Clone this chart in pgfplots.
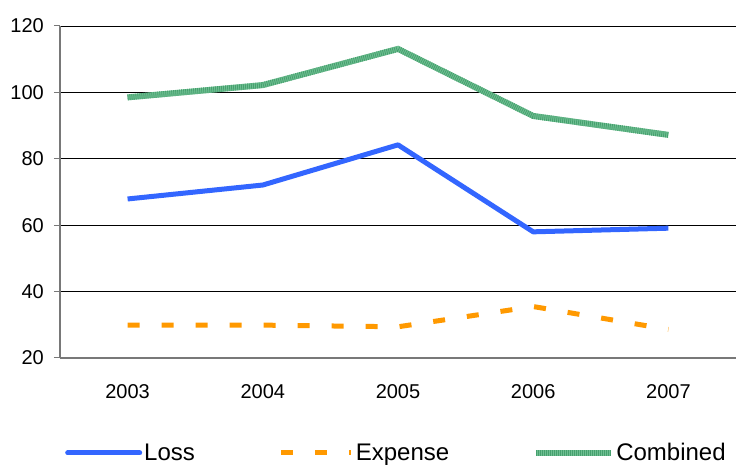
\documentclass[border=0pt]{standalone}
\usepackage{fontspec}
\setmainfont{Liberation Sans}
\usepackage{pgfplots}
\pgfplotsset{compat=1.18}
\definecolor{lossblue}{RGB}{51,102,255}
\definecolor{expor}{RGB}{255,153,0}
\definecolor{combg}{RGB}{110,190,145}
\definecolor{combd}{RGB}{70,160,110}
\definecolor{axgray}{RGB}{120,120,120}
\begin{document}
\begin{tikzpicture}
\begin{axis}[
  scale only axis, width=676pt, height=332pt,
  xmin=-0.5, xmax=4.5, ymin=20, ymax=120,
  xtick={0,1,2,3,4}, xticklabels={2003,2004,2005,2006,2007},
  ytick={20,40,60,80,100,120},
  ymajorgrids, grid style={black, line width=0.8pt},
  axis x line*=bottom, axis y line*=left,
  axis line style={-, axgray, line width=1.3pt},
  tick align=outside, major tick length=6pt,
  xtick style={draw=none},
  ytick style={axgray, line width=1pt},
  /pgf/number format/assume math mode=true,
  ticklabel style={font=\fontsize{20}{24}\selectfont, inner sep=0pt},
  yticklabel style={xshift=-10pt},
  xticklabel style={yshift=-20pt},
  legend columns=3,
  legend style={at={(axis description cs:0,0)}, anchor=west, xshift=5pt, yshift=-95pt,
    draw=none, fill=none, inner sep=0pt, font=\fontsize{24}{28}\selectfont,
    nodes={inner sep=0pt},
    /tikz/every odd column/.append style={column sep=2pt},
    /tikz/every even column/.append style={column sep=84pt}},
  legend cell align=left,
]
\addplot[lossblue, line width=5pt, line join=round,
  legend image code/.code={\draw[lossblue, line width=5pt, line cap=round] (0pt,0pt) -- (72pt,0pt);}]
  coordinates {(0,67.9) (1,72.1) (2,84.2) (3,58.0) (4,59.1)};
\addlegendentry{Loss}
\addplot[expor, line width=5pt, dash pattern=on 12pt off 22pt,
  legend image code/.code={\draw[expor, line width=5pt, dash pattern=on 12pt off 22pt] (0pt,0pt) -- (70pt,0pt);}]
  coordinates {(0,29.9) (1,29.9) (2,29.4) (3,35.5) (4,28.6)};
\addlegendentry{Expense}
\addplot[combg, line width=6pt,
  legend image code/.code={\draw[combg, line width=6pt] (0pt,0pt) -- (75pt,0pt);
     \draw[combd, line width=6pt, dash pattern=on 0.8pt off 1.2pt] (0pt,0pt) -- (75pt,0pt);}]
  coordinates {(0,98.5) (1,102.2) (2,113.1) (3,92.9) (4,87.2)};
\addlegendentry{Combined}
\addplot[combd, line width=6pt, dash pattern=on 0.8pt off 1.2pt, forget plot]
  coordinates {(0,98.5) (1,102.2) (2,113.1) (3,92.9) (4,87.2)};
\end{axis}
\pgfresetboundingbox
\path[use as bounding box] ([xshift=-60pt,yshift=-107pt]current axis.south west) rectangle ([yshift=26pt]current axis.north east);
\end{tikzpicture}
\end{document}
